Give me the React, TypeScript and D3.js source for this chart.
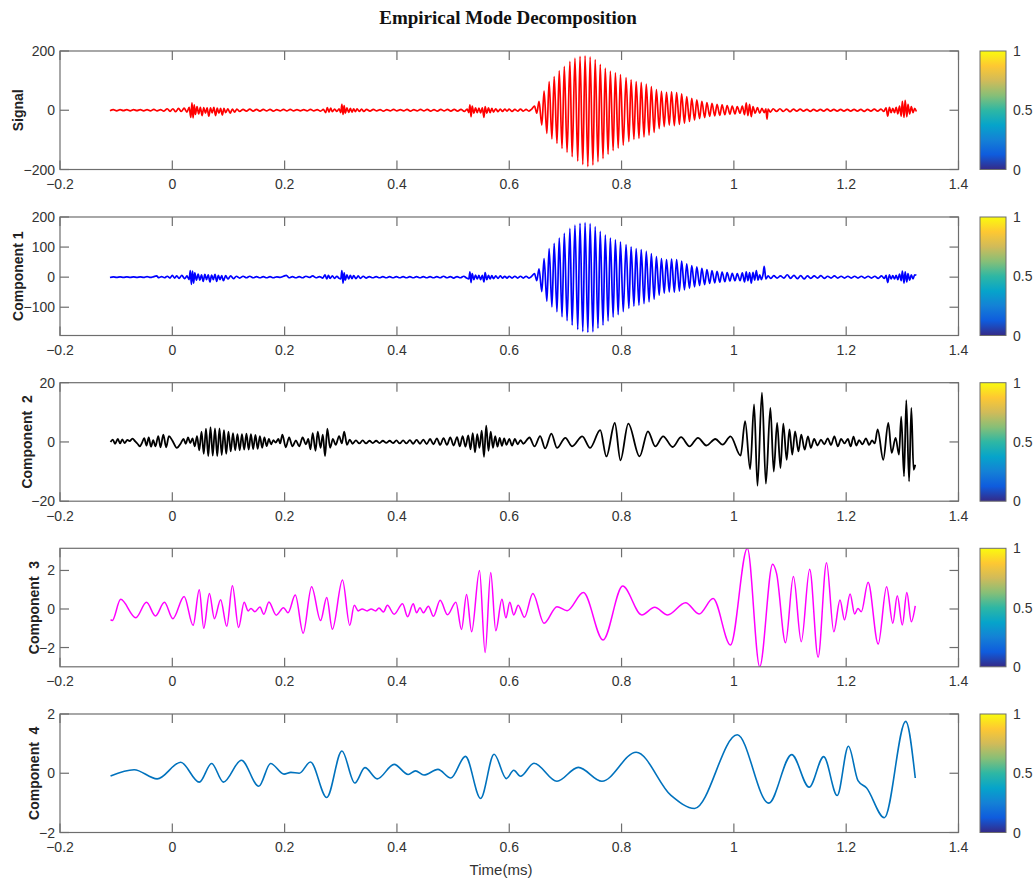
import React, { useEffect, useRef } from 'react';
import * as d3 from 'd3';

const WIDTH = 1034;
const HEIGHT = 884;

const xTicks = [-0.2, 0, 0.2, 0.4, 0.6, 0.8, 1, 1.2, 1.4];
const colorbarTicks = [0, 0.5, 1];

// [time (ms), value] – extrema
const signalPts: [number, number][] = [
  [-0.111, -2], [-0.105, 2], [-0.099, -2], [-0.093, 2], [-0.087, -1], [-0.081, 2], [-0.075, -2], [-0.069, 2],
  [-0.063, -1], [-0.057, 2], [-0.051, -2], [-0.045, 2], [-0.039, -2], [-0.033, 3], [-0.027, -2], [-0.021, 2],
  [-0.015, -3], [-0.009, 5], [-0.004, -4], [0.001, 5], [0.006, -5], [0.011, 6], [0.016, -4], [0.021, 7], [0.026, -6],
  [0.030, 10], [0.033, -24], [0.035, 25], [0.037, -26], [0.039, 18], [0.041, -14], [0.044, 12], [0.047, -12],
  [0.050, 10], [0.053, -18], [0.056, 9], [0.059, -10], [0.062, 8], [0.065, -20], [0.068, 8], [0.071, -9],
  [0.074, 10], [0.077, -18], [0.080, 7], [0.083, -10], [0.086, 6], [0.089, -16], [0.092, 6], [0.095, -8],
  [0.099, 5], [0.103, -10], [0.107, 4], [0.111, -6], [0.115, 4], [0.120, -4],
  [0.126, 3], [0.132, -3], [0.138, 4], [0.144, -3], [0.150, 3], [0.156, -3], [0.162, 3], [0.168, -2], [0.174, 3],
  [0.180, -3], [0.186, 2], [0.192, -2], [0.198, 3], [0.204, -2], [0.210, 3], [0.216, -2], [0.222, 2], [0.228, -2],
  [0.234, 2], [0.240, -2], [0.246, 3], [0.252, -2], [0.258, 2], [0.264, -3], [0.269, 3],
  [0.273, -8], [0.276, 9], [0.279, -6], [0.282, 7], [0.285, -5], [0.289, 4], [0.293, -4], [0.297, 5], [0.300, -8],
  [0.302, 20], [0.304, -14], [0.306, 16], [0.308, -10], [0.311, 8], [0.314, -7], [0.317, 6], [0.320, -6],
  [0.323, 5], [0.326, -5], [0.329, 5], [0.333, -4], [0.337, 4], [0.341, -4], [0.346, 3],
  [0.352, -3], [0.358, 3], [0.364, -2], [0.370, 2], [0.376, -3], [0.382, 2], [0.388, -2], [0.394, 3], [0.400, -2],
  [0.406, 2], [0.412, -2], [0.418, 3], [0.424, -3], [0.430, 2], [0.436, -2], [0.442, 3], [0.448, -2], [0.454, 3],
  [0.460, -3], [0.466, 2], [0.472, -3], [0.478, 3], [0.484, -2], [0.490, 3], [0.496, -3], [0.502, 3], [0.508, -3],
  [0.514, 3], [0.520, -4], [0.525, 4],
  [0.528, -8], [0.530, 18], [0.532, -22], [0.534, 14], [0.537, -10], [0.540, 8], [0.543, -8], [0.546, 7],
  [0.549, -9], [0.552, 8], [0.555, -24], [0.557, 12], [0.560, -10], [0.563, 8], [0.566, -8], [0.569, 6],
  [0.572, -6], [0.576, 5], [0.580, -5], [0.584, 4], [0.588, -4], [0.592, 4], [0.596, -3], [0.600, 4], [0.605, -4],
  [0.610, 3], [0.615, -3], [0.620, 4], [0.625, -3], [0.630, 3], [0.635, -3], [0.640, 4],
  [0.645, 14], [0.649, -10], [0.653, 30], [0.658, -50], [0.662, 65], [0.667, -78], [0.671, 97], [0.676, -97],
  [0.680, 114], [0.685, -112], [0.689, 133], [0.694, -129], [0.698, 148], [0.703, -142], [0.708, 165], [0.712, -157],
  [0.717, 176], [0.722, -172], [0.726, 182], [0.731, -183], [0.735, 184], [0.740, -190], [0.744, 180], [0.749, -185],
  [0.753, 171], [0.758, -174], [0.762, 155], [0.767, -163], [0.771, 142], [0.776, -149], [0.780, 132], [0.785, -136],
  [0.789, 126], [0.794, -128], [0.798, 120], [0.803, -118], [0.808, 110], [0.813, -106], [0.817, 103], [0.822, -98],
  [0.826, 97], [0.831, -95], [0.835, 94], [0.840, -90], [0.844, 88], [0.849, -84], [0.853, 80], [0.858, -75],
  [0.862, 70], [0.867, -62], [0.871, 64], [0.876, -55], [0.880, 60], [0.885, -50], [0.889, 62], [0.894, -52],
  [0.898, 60], [0.903, -48], [0.907, 55], [0.912, -44], [0.916, 46], [0.921, -38], [0.925, 40], [0.930, -33],
  [0.934, 35], [0.939, -28], [0.943, 30], [0.948, -25], [0.952, 26], [0.957, -21], [0.961, 23], [0.966, -19],
  [0.970, 20], [0.975, -17], [0.979, 18], [0.984, -15], [0.988, 16], [0.993, -13], [0.997, 14], [1.002, -12],
  [1.006, 12], [1.011, -10], [1.015, 14], [1.019, -15], [1.022, 25], [1.025, -18], [1.028, 20], [1.031, -22],
  [1.034, 12], [1.038, -10], [1.042, 9], [1.046, -10], [1.050, 6], [1.054, -8], [1.057, 5], [1.059, -30],
  [1.061, 4], [1.065, -6],
  [1.070, 5], [1.076, -4], [1.082, 5], [1.088, -4], [1.094, 4], [1.100, -5], [1.106, 4], [1.112, -3], [1.118, 4],
  [1.124, -3], [1.130, 3], [1.136, -4], [1.142, 3], [1.148, -3], [1.154, 3], [1.160, -3], [1.166, 4], [1.172, -3],
  [1.178, 3], [1.184, -3], [1.190, 3], [1.196, -3], [1.202, 3], [1.208, -3], [1.214, 3], [1.220, -3], [1.226, 3],
  [1.232, -4], [1.238, 3], [1.244, -3], [1.250, 4], [1.256, -3], [1.262, 4], [1.267, -4],
  [1.271, 8], [1.274, -20], [1.277, 10], [1.280, -8], [1.283, 6], [1.286, -8], [1.289, 10], [1.292, -12],
  [1.295, 14], [1.298, -20], [1.300, 30], [1.303, -24], [1.305, 33], [1.308, -22], [1.310, 20], [1.313, -12],
  [1.316, 12], [1.319, -8], [1.322, 6], [1.325, -4],
];

const comp1Pts: [number, number][] = [
  [-0.111, -1], [-0.105, 1], [-0.099, -1], [-0.093, 1], [-0.087, -1], [-0.081, 1], [-0.075, -1], [-0.069, 1],
  [-0.063, -1], [-0.057, 1], [-0.051, -1], [-0.045, 2], [-0.039, -1], [-0.033, 2], [-0.028, 4], [-0.024, -2],
  [-0.019, 2], [-0.014, -2], [-0.009, 3], [-0.004, -3], [0.000, 6], [0.004, -3], [0.008, 4], [0.012, -4],
  [0.017, 6], [0.022, -5], [0.026, 4], [0.030, -8], [0.032, 22], [0.034, -24], [0.036, 20], [0.038, -20],
  [0.040, 14], [0.043, -10], [0.046, 10], [0.049, -10], [0.052, 8], [0.055, -14], [0.058, 9], [0.061, -8],
  [0.064, 8], [0.067, -16], [0.070, 7], [0.073, -8], [0.076, 9], [0.079, -14], [0.082, 6], [0.085, -8],
  [0.088, 5], [0.091, -12], [0.095, 5], [0.099, -6], [0.104, 4], [0.109, -5], [0.114, 3], [0.120, -3],
  [0.126, 3], [0.132, -2], [0.138, 3], [0.144, -2], [0.150, 2], [0.156, -2], [0.162, 2], [0.168, -2], [0.174, 2],
  [0.180, -2], [0.186, 1], [0.192, -1], [0.198, 3], [0.203, 6], [0.208, -2], [0.214, 2], [0.220, -2], [0.226, 2],
  [0.232, -2], [0.238, 3], [0.244, -1], [0.250, 4], [0.256, -2], [0.262, 2], [0.268, -3], [0.272, 8], [0.275, -6],
  [0.278, 6], [0.281, -4], [0.285, 4], [0.289, -4], [0.293, 3], [0.297, -4], [0.300, -6], [0.302, 22],
  [0.304, -20], [0.306, 14], [0.308, -10], [0.311, 8], [0.314, -6], [0.317, 6], [0.320, -5], [0.323, 5],
  [0.327, -5], [0.331, 4], [0.335, -4], [0.340, 3], [0.345, -3],
  [0.351, 2], [0.357, -2], [0.363, 2], [0.369, -2], [0.375, 2], [0.381, -2], [0.387, 2], [0.393, -2], [0.399, 2],
  [0.405, -2], [0.411, 2], [0.417, -2], [0.423, 2], [0.429, -2], [0.435, 2], [0.441, -2], [0.447, 2], [0.453, -2],
  [0.459, 2], [0.465, -2], [0.471, 2], [0.477, -2], [0.483, 3], [0.489, -2], [0.495, 2], [0.501, -3], [0.507, 2],
  [0.513, -2], [0.519, 3], [0.524, -3],
  [0.528, -6], [0.530, 18], [0.532, -18], [0.534, 12], [0.537, -8], [0.540, 7], [0.543, -6], [0.546, 6],
  [0.549, -8], [0.552, 6], [0.555, -16], [0.557, 15], [0.560, -8], [0.563, 6], [0.566, -6], [0.569, 5],
  [0.572, -5], [0.576, 4], [0.580, -4], [0.584, 4], [0.588, -3], [0.592, 3], [0.596, -3], [0.600, 3], [0.605, -3],
  [0.610, 3], [0.615, -3], [0.620, 3], [0.625, -3], [0.630, 3], [0.635, -3], [0.640, 3],
  [0.645, 12], [0.649, -12], [0.653, 28], [0.658, -48], [0.662, 62], [0.667, -80], [0.671, 95], [0.676, -99],
  [0.680, 112], [0.685, -115], [0.689, 130], [0.694, -132], [0.698, 146], [0.703, -145], [0.708, 162], [0.712, -160],
  [0.717, 173], [0.722, -174], [0.726, 179], [0.731, -181], [0.735, 181], [0.740, -184], [0.744, 178], [0.749, -182],
  [0.753, 168], [0.758, -170], [0.762, 152], [0.767, -160], [0.771, 140], [0.776, -146], [0.780, 130], [0.785, -133],
  [0.789, 124], [0.794, -125], [0.798, 117], [0.803, -115], [0.808, 108], [0.813, -104], [0.817, 101], [0.822, -96],
  [0.826, 95], [0.831, -93], [0.835, 92], [0.840, -88], [0.844, 86], [0.849, -82], [0.853, 78], [0.858, -73],
  [0.862, 68], [0.867, -60], [0.871, 62], [0.876, -53], [0.880, 58], [0.885, -49], [0.889, 60], [0.894, -50],
  [0.898, 58], [0.903, -46], [0.907, 53], [0.912, -42], [0.916, 44], [0.921, -37], [0.925, 38], [0.930, -32],
  [0.934, 34], [0.939, -28], [0.943, 29], [0.948, -25], [0.952, 25], [0.957, -21], [0.961, 22], [0.966, -19],
  [0.970, 19], [0.975, -17], [0.979, 17], [0.984, -15], [0.988, 15], [0.993, -13], [0.997, 13], [1.002, -12],
  [1.006, 12], [1.011, -12], [1.015, 14], [1.019, -16], [1.022, 18], [1.025, -12], [1.028, 15], [1.031, -20],
  [1.034, 16], [1.037, -10], [1.040, 22], [1.043, -10], [1.046, 8], [1.049, -8], [1.052, 10], [1.054, 36],
  [1.057, -6], [1.061, 4], [1.066, -4], [1.071, 5], [1.077, -3], [1.083, 4], [1.089, -3], [1.095, 8], [1.101, -4],
  [1.107, 6], [1.113, -5], [1.119, 5], [1.125, -6], [1.131, 4], [1.137, -4], [1.143, 4], [1.149, -3], [1.155, 5],
  [1.161, -4], [1.167, 3], [1.173, -3], [1.179, 4], [1.185, -3], [1.191, 3], [1.197, -3], [1.203, 3], [1.209, -3],
  [1.215, 3], [1.221, -3], [1.227, 3], [1.233, -3], [1.239, 3], [1.245, -3], [1.251, 3], [1.257, -4], [1.263, 4],
  [1.268, -4], [1.271, 6], [1.274, -18], [1.277, 8], [1.280, -6], [1.283, 5], [1.286, -6], [1.289, 6],
  [1.292, -8], [1.295, 10], [1.298, -12], [1.300, 20], [1.303, -20], [1.305, 18], [1.308, -16], [1.310, 12],
  [1.313, -10], [1.316, 8], [1.319, -6], [1.322, 8], [1.325, 6],
];

const comp2Pts: [number, number][] = [
  [-0.110, 0], [-0.106, 0.8], [-0.102, -0.6], [-0.097, 1.0], [-0.093, -0.5], [-0.089, 0.9], [-0.085, -0.4],
  [-0.080, 0.7], [-0.076, 0.3], [-0.071, 1.1], [-0.066, 0.2], [-0.062, -0.6], [-0.058, -1.5], [-0.054, -0.3],
  [-0.050, 1.3], [-0.046, -1.2], [-0.042, 1.5], [-0.038, -1.6], [-0.034, 0.6], [-0.030, -1.5], [-0.025, 2.0],
  [-0.021, -1.8], [-0.016, 2.5], [-0.011, -1.8], [-0.006, 2.0], [0.000, 0.5], [0.008, -2.0], [0.015, -0.5],
  [0.020, 1.0], [0.024, -0.6], [0.028, 1.5], [0.032, -0.4], [0.036, 1.2], [0.040, -1.5],
  [0.044, 2.0], [0.048, -2.8], [0.052, 3.5], [0.056, -4.0], [0.060, 4.5], [0.064, -4.8], [0.068, 5.0],
  [0.072, -4.6], [0.076, 4.6], [0.080, -4.8], [0.084, 4.6], [0.088, -4.4], [0.092, 4.0], [0.096, -4.0],
  [0.100, 3.5], [0.104, -3.2], [0.108, 3.0], [0.112, -2.8], [0.116, 2.6], [0.120, -2.8], [0.124, 2.6],
  [0.128, -2.6], [0.132, 2.8], [0.136, -2.6], [0.140, 2.6], [0.144, -2.4], [0.148, 2.4], [0.152, -2.3],
  [0.156, 2.0], [0.160, -2.0], [0.164, 1.5], [0.168, -1.4], [0.172, 1.0], [0.176, -0.8], [0.180, 0.6],
  [0.184, -0.2], [0.189, 1.0], [0.192, -0.5], [0.196, 2.5], [0.202, -1.8], [0.208, 1.5], [0.214, -1.5], [0.220, 0.5],
  [0.226, -1.5], [0.232, 1.5], [0.238, -0.8], [0.242, 1.0], [0.246, -2.5], [0.250, 3.0], [0.255, -3.0],
  [0.259, 3.5], [0.264, -2.0], [0.268, 2.5], [0.272, -4.8], [0.276, 4.5], [0.281, -2.0], [0.286, 1.0],
  [0.291, -1.0], [0.297, 2.0], [0.302, -0.5], [0.306, 3.5], [0.311, -1.0], [0.316, 0.8],
  [0.321, -0.6], [0.327, 0.5], [0.333, -0.5], [0.339, 0.5], [0.345, -0.5], [0.351, 0.4], [0.357, -0.4],
  [0.363, 0.4], [0.369, -0.4], [0.375, 0.4], [0.381, -0.3], [0.387, 0.4], [0.393, -0.4], [0.399, 0.5],
  [0.405, -0.5], [0.411, 0.5], [0.417, -0.5], [0.423, 0.6], [0.429, -0.6], [0.435, 0.7], [0.441, -0.6],
  [0.447, 0.8], [0.453, -0.7], [0.459, 1.0], [0.465, -0.8], [0.471, 1.2], [0.477, -1.0], [0.483, 1.3],
  [0.489, -1.0], [0.495, 1.5], [0.501, -1.2], [0.507, 1.6], [0.512, -1.5], [0.517, 2.0], [0.522, -1.6],
  [0.527, 2.2], [0.531, -2.5], [0.535, 3.0], [0.539, -3.5], [0.543, 2.6], [0.547, -2.0], [0.551, 3.8],
  [0.555, -5.0], [0.559, 5.5], [0.563, -3.0], [0.567, 3.5], [0.571, -2.0], [0.575, 2.0], [0.579, -1.6],
  [0.583, 1.4], [0.587, -1.3], [0.591, 1.2], [0.595, -1.0], [0.600, 1.0], [0.605, -1.2], [0.610, 1.0],
  [0.615, -0.8], [0.620, 0.6], [0.625, -0.6],
  [0.636, 1.5], [0.645, -1.5], [0.655, 2.0], [0.664, -2.2], [0.675, 2.8], [0.685, -2.0], [0.700, 1.4],
  [0.712, -1.5], [0.730, 1.9], [0.744, -2.0], [0.762, 4.0], [0.773, -4.9], [0.788, 6.4], [0.798, -6.2],
  [0.812, 6.2], [0.832, -4.9], [0.847, 3.6], [0.860, -1.5], [0.874, 1.9], [0.891, -1.7], [0.906, 1.6],
  [0.921, -1.5], [0.936, 1.4], [0.951, -1.2], [0.967, 1.0], [0.980, -0.9], [0.994, 1.9], [1.012, -4.6],
  [1.020, 7.0], [1.029, -9.2], [1.036, 12.7], [1.042, -14.8], [1.050, 16.6], [1.057, -14.1], [1.065, 11.5],
  [1.071, -10.0], [1.077, 6.4], [1.083, -8.8], [1.088, 6.2], [1.094, -6.0], [1.099, 4.2], [1.104, -4.3],
  [1.109, 3.6], [1.115, -3.2], [1.120, 2.5], [1.126, -2.6], [1.132, 1.9], [1.137, -2.0],
  [1.143, 1.0], [1.149, -1.2], [1.155, 0.8], [1.161, -0.8], [1.167, 1.2], [1.173, -1.0], [1.179, 1.9],
  [1.185, -1.5], [1.191, 1.0], [1.197, -0.5], [1.203, 1.0], [1.208, -1.5], [1.213, 1.8], [1.218, -1.2],
  [1.223, 0.6], [1.229, -0.8], [1.235, 1.2], [1.241, -1.0], [1.246, 0.5], [1.251, -0.5],
  [1.256, 4.2], [1.266, -6.0], [1.275, 6.4], [1.281, -3.7], [1.288, 1.4], [1.294, -4.3], [1.298, 8.5],
  [1.303, -11.6], [1.307, 14.1], [1.312, -13.3], [1.316, 11.5], [1.320, -9.4], [1.323, -7.7],
];

const comp3Pts: [number, number][] = [
  [-0.110, -0.55], [-0.107, -0.6], [-0.092, 0.5], [-0.065, -0.45], [-0.046, 0.35], [-0.030, -0.36],
  [-0.014, 0.35], [0.001, -0.5], [0.021, 0.65], [0.037, -0.85], [0.048, 1.0], [0.056, -1.0], [0.066, 0.8],
  [0.075, -0.5], [0.086, 0.48], [0.097, -0.9], [0.107, 1.2], [0.118, -0.96], [0.128, 0.35], [0.135, -0.1],
  [0.140, 0.03], [0.147, -0.14], [0.156, 0.1], [0.163, -0.27], [0.172, 0.36], [0.185, -0.32], [0.198, 0.07],
  [0.206, -0.2], [0.219, 0.72], [0.233, -1.26], [0.248, 1.16], [0.264, -0.6], [0.275, 0.6], [0.285, -1.05],
  [0.303, 1.5], [0.316, -0.85], [0.324, 0.2], [0.331, -0.1], [0.338, 0.0], [0.347, -0.1], [0.354, 0.0],
  [0.362, -0.1], [0.368, 0.05], [0.376, -0.15], [0.383, 0.19], [0.395, -0.27], [0.410, 0.27], [0.419, -0.4],
  [0.429, 0.27], [0.435, -0.2], [0.441, 0.07], [0.447, -0.2], [0.456, 0.14], [0.465, -0.38], [0.477, 0.45],
  [0.490, -0.3], [0.505, 0.35], [0.515, -1.06], [0.524, 0.75], [0.533, -1.18], [0.547, 2.0], [0.557, -2.26],
  [0.567, 1.9], [0.576, -1.13], [0.587, 0.5], [0.594, -0.46], [0.601, 0.35], [0.608, -0.31], [0.616, 0.2],
  [0.627, -0.43], [0.642, 0.81], [0.662, -0.74], [0.685, 0.12], [0.703, -0.09], [0.732, 0.85], [0.767, -1.61],
  [0.802, 1.19], [0.836, -0.31], [0.859, 0.09], [0.882, -0.31], [0.914, 0.33], [0.938, -0.26], [0.963, 0.54],
  [0.994, -1.87], [1.024, 3.15], [1.046, -3.0], [1.069, 2.32], [1.076, 1.85], [1.092, -1.75], [1.106, 1.68],
  [1.120, -1.7], [1.135, 2.06], [1.150, -2.5], [1.165, 2.4], [1.178, -1.18], [1.189, 0.47], [1.197, -0.57],
  [1.207, 0.78], [1.215, -0.26], [1.221, 0.03], [1.227, -0.14], [1.239, 1.39], [1.257, -1.82], [1.272, 1.16],
  [1.283, -0.74], [1.291, 0.69], [1.300, -0.83], [1.308, 0.85], [1.316, -0.66], [1.323, 0.16],
];

const comp4Pts: [number, number][] = [
  [-0.110, -0.09], [-0.068, 0.12], [-0.027, -0.19], [0.015, 0.37], [0.048, -0.3], [0.070, 0.33], [0.091, -0.3],
  [0.123, 0.44], [0.154, -0.44], [0.175, 0.33], [0.199, -0.03], [0.211, 0.03], [0.226, 0.0], [0.246, 0.38],
  [0.275, -0.82], [0.302, 0.75], [0.325, -0.33], [0.343, 0.19], [0.365, -0.19], [0.395, 0.3], [0.420, -0.04],
  [0.433, 0.08], [0.448, -0.06], [0.473, 0.13], [0.496, -0.16], [0.522, 0.57], [0.549, -0.85], [0.573, 0.64],
  [0.595, -0.18], [0.608, 0.1], [0.620, -0.1], [0.644, 0.34], [0.685, -0.27], [0.723, 0.2], [0.765, -0.27],
  [0.826, 0.71], [0.888, -0.75], [0.930, -1.19], [1.006, 1.3], [1.062, -1.01], [1.103, 0.63], [1.134, -0.47],
  [1.160, 0.56], [1.184, -0.75], [1.204, 0.91], [1.221, -0.25], [1.236, -0.49], [1.268, -1.5], [1.306, 1.75],
  [1.323, -0.16],
];

const panels = [
  { label: 'Signal', data: signalPts, color: '#ff0000', width: 1.7, domain: [-200, 200], ticks: [-200, 0, 200], labelX: 23 },
  { label: 'Component 1', data: comp1Pts, color: '#0000ff', width: 1.7, domain: [-194, 200], ticks: [-100, 0, 100, 200], labelX: 23 },
  { label: 'Component  2', data: comp2Pts, color: '#000000', width: 1.8, domain: [-20, 20], ticks: [-20, 0, 20], labelX: 32 },
  { label: 'Component  3', data: comp3Pts, color: '#ff00ff', width: 1.5, domain: [-3, 3.15], ticks: [-2, 0, 2], labelX: 38.5 },
  { label: 'Component  4', data: comp4Pts, color: '#0072bd', width: 1.6, domain: [-2, 2], ticks: [-2, 0, 2], labelX: 38.5 },
];

const parulaStops = ['#352a87', '#0f5cdd', '#1481d6', '#06a4ca', '#2eb7a4', '#87bf77', '#d1bb59', '#fec832', '#f9fb0e'];

const fmt = (n: number) => (n < 0 ? '\u2212' : '') + String(Math.abs(n));

export default function App() {
  const svgRef = useRef<SVGSVGElement | null>(null);

  useEffect(() => {
    const svgEl = svgRef.current;
    if (!svgEl) return;
    const svg = d3.select(svgEl);
    svg.selectAll('*').remove();

    const left = 60;
    const right = 958.5;
    const tops = [51, 217, 382.7, 548.3, 714];
    const panelH = 118.5;
    const tickLen = 9;
    const axisColor = '#6e6e6e';
    const textColor = '#333333';
    const font = 'Arial, "Liberation Sans", Helvetica, sans-serif';

    const defs = svg.append('defs');
    const grad = defs
      .append('linearGradient')
      .attr('id', 'parula')
      .attr('x1', 0).attr('y1', 1).attr('x2', 0).attr('y2', 0);
    parulaStops.forEach((c, i) => {
      grad.append('stop').attr('offset', i / (parulaStops.length - 1)).attr('stop-color', c);
    });

    svg.append('rect').attr('width', WIDTH).attr('height', HEIGHT).attr('fill', '#ffffff');

    // Title
    svg
      .append('text')
      .attr('x', 508)
      .attr('y', 24)
      .attr('text-anchor', 'middle')
      .attr('font-family', '"Liberation Serif", "Times New Roman", serif')
      .attr('font-weight', 'bold')
      .attr('font-size', 19)
      .attr('fill', '#111')
      .text('Empirical Mode Decomposition');

    const x = d3.scaleLinear().domain([-0.2, 1.4]).range([left, right]);

    panels.forEach((p, i) => {
      const top = tops[i];
      const bottom = top + panelH;
      const y = d3.scaleLinear().domain(p.domain).range([bottom, top]);
      const g = svg.append('g');

      defs
        .append('clipPath')
        .attr('id', `clip${i}`)
        .append('rect')
        .attr('x', left)
        .attr('y', top)
        .attr('width', right - left)
        .attr('height', panelH);

      const line = d3
        .line<[number, number]>()
        .x(d => x(d[0]))
        .y(d => y(d[1]))
        .curve(d3.curveMonotoneX);

      g.append('path')
        .datum(p.data)
        .attr('d', line)
        .attr('fill', 'none')
        .attr('stroke', p.color)
        .attr('stroke-width', p.width)
        .attr('stroke-linejoin', 'round')
        .attr('clip-path', `url(#clip${i})`);

      // Box
      g.append('rect')
        .attr('x', left)
        .attr('y', top)
        .attr('width', right - left)
        .attr('height', panelH)
        .attr('fill', 'none')
        .attr('stroke', axisColor)
        .attr('stroke-width', 1.2);

      // X ticks (inward, top and bottom)
      xTicks.forEach(t => {
        const xx = x(t);
        g.append('line').attr('x1', xx).attr('x2', xx).attr('y1', bottom).attr('y2', bottom - tickLen)
          .attr('stroke', axisColor).attr('stroke-width', 1.2);
        g.append('line').attr('x1', xx).attr('x2', xx).attr('y1', top).attr('y2', top + tickLen)
          .attr('stroke', axisColor).attr('stroke-width', 1.2);
        g.append('text')
          .attr('x', xx)
          .attr('y', bottom + 19.5)
          .attr('text-anchor', 'middle')
          .attr('font-family', font)
          .attr('font-size', 14)
          .attr('fill', textColor)
          .text(fmt(t));
      });

      // Y ticks (inward, left and right)
      p.ticks.forEach(v => {
        const yy = y(v);
        g.append('line').attr('x1', left).attr('x2', left + tickLen).attr('y1', yy).attr('y2', yy)
          .attr('stroke', axisColor).attr('stroke-width', 1.2);
        g.append('line').attr('x1', right).attr('x2', right - tickLen).attr('y1', yy).attr('y2', yy)
          .attr('stroke', axisColor).attr('stroke-width', 1.2);
        g.append('text')
          .attr('x', left - 5)
          .attr('y', yy)
          .attr('dy', '0.36em')
          .attr('text-anchor', 'end')
          .attr('font-family', font)
          .attr('font-size', 14)
          .attr('fill', textColor)
          .text(fmt(v));
      });

      // Y label
      g.append('text')
        .attr('transform', `translate(${p.labelX},${(top + bottom) / 2}) rotate(-90)`)
        .attr('text-anchor', 'middle')
        .attr('font-family', font)
        .attr('font-weight', 'bold')
        .attr('font-size', 14)
        .attr('fill', '#222')
        .style('white-space', 'pre')
        .text(p.label);

      // Colorbar
      const cbX = 980;
      const cbW = 26;
      const cbY = d3.scaleLinear().domain([0, 1]).range([bottom, top]);
      g.append('rect')
        .attr('x', cbX)
        .attr('y', top)
        .attr('width', cbW)
        .attr('height', panelH)
        .attr('fill', 'url(#parula)')
        .attr('stroke', axisColor)
        .attr('stroke-width', 1);
      colorbarTicks.forEach(v => {
        g.append('text')
          .attr('x', cbX + cbW + 7)
          .attr('y', cbY(v))
          .attr('dy', '0.36em')
          .attr('font-family', font)
          .attr('font-size', 14)
          .attr('fill', textColor)
          .text(String(v));
      });
    });

    svg
      .append('text')
      .attr('x', 501)
      .attr('y', 875)
      .attr('text-anchor', 'middle')
      .attr('font-family', font)
      .attr('font-size', 15)
      .attr('fill', textColor)
      .text('Time(ms)');
  }, []);

  return (
    <svg
      ref={svgRef}
      width={WIDTH}
      height={HEIGHT}
      viewBox={`0 0 ${WIDTH} ${HEIGHT}`}
      style={{ position: 'absolute', left: 0, top: 0, display: 'block' }}
    />
  );
}
